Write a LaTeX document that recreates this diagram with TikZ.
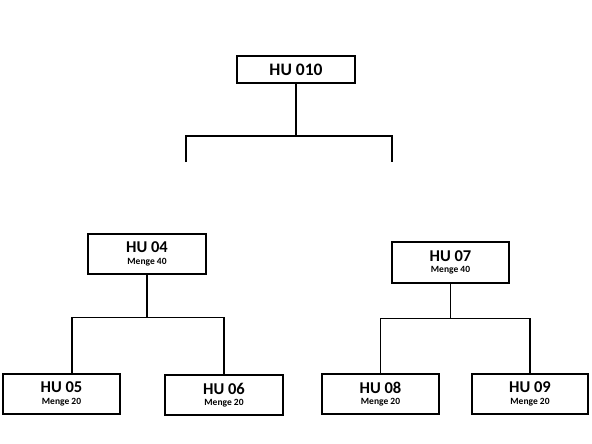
\documentclass[tikz,border=0pt]{standalone}
\usepackage{fontspec}
\setmainfont{Carlito}
\begin{document}
\begin{tikzpicture}[x=1pt,y=-1pt,
  hubox/.style={draw=black,line width=1.3pt,fill=white,inner sep=0pt,align=center,
    font=\bfseries\fontsize{16.5}{11.5}\selectfont},
  conn/.style={draw=black,line width=1.3pt}]
\useasboundingbox (0,0) rectangle (592,444);
\node[hubox,minimum width=118pt,minimum height=27pt,font=\bfseries\fontsize{17.5}{20}\selectfont] (top) at (296,69.5) {HU 010};
\node[hubox,minimum width=118pt,minimum height=40pt] (hu04) at (147,254) {HU 04\\{\fontsize{9.5}{10}\selectfont Menge 40}};
\node[hubox,minimum width=117pt,minimum height=41pt] (hu07) at (450.5,262.5) {HU 07\\{\fontsize{9.5}{10}\selectfont Menge 40}};
\node[hubox,minimum width=117pt,minimum height=40pt] (hu05) at (61.5,394) {HU 05\\{\fontsize{9.5}{10}\selectfont Menge 20}};
\node[hubox,minimum width=118pt,minimum height=40pt] (hu06) at (224,395) {HU 06\\{\fontsize{9.5}{10}\selectfont Menge 20}};
\node[hubox,minimum width=117pt,minimum height=40pt] (hu08) at (380.5,394) {HU 08\\{\fontsize{9.5}{10}\selectfont Menge 20}};
\node[hubox,minimum width=116pt,minimum height=40pt] (hu09) at (530,394) {HU 09\\{\fontsize{9.5}{10}\selectfont Menge 20}};
% top connector with free ends
\coordinate (bar) at (296,136);
\coordinate (dl) at (186,162);
\coordinate (dr) at (392,162);
\draw[conn] (top.south) -- (bar);
\draw[conn] (dl) |- (bar) -| (dr);
% HU 04 children
\draw[conn] (hu04.south) -- ++(0,43) coordinate (b4);
\draw[conn] ([xshift=10.5pt]hu05.north) |- (b4) -| (hu06.north);
% HU 07 children
\draw[conn] (hu07.south) -- ++(0,35) coordinate (b7);
\draw[conn] (hu08.north) |- (b7) -| (hu09.north);
\end{tikzpicture}
\end{document}
